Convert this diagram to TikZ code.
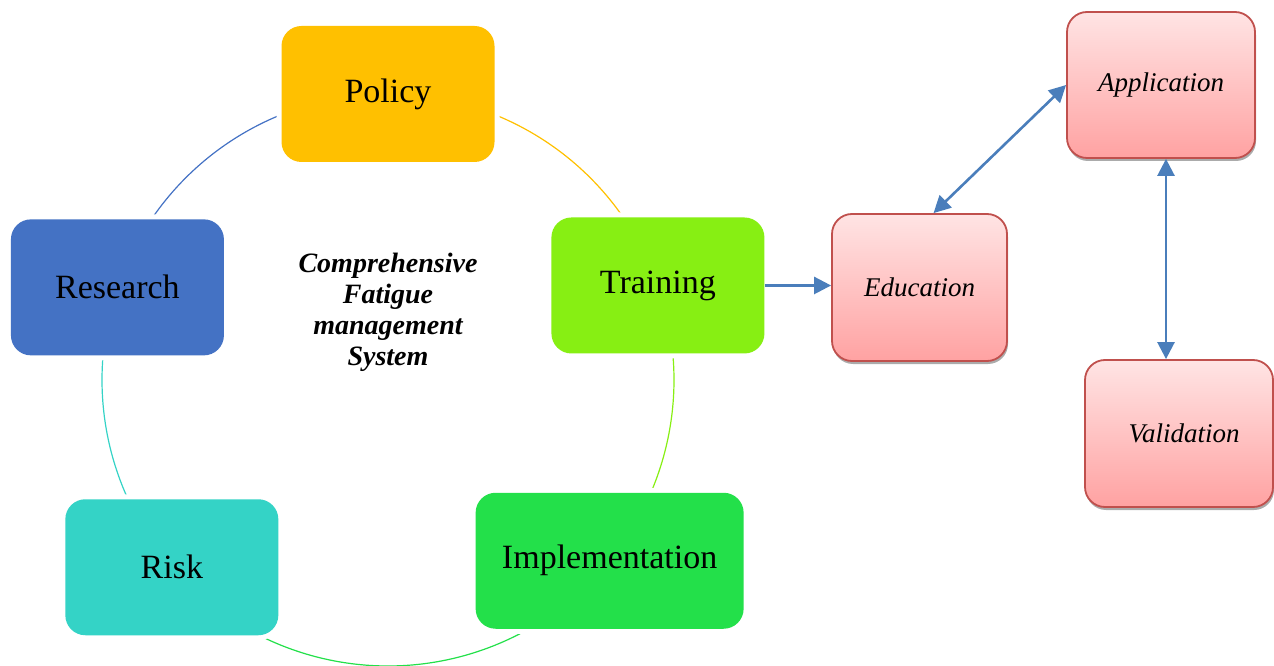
\documentclass[tikz,border=0pt]{standalone}
\usepackage{fontspec}
\setmainfont{Liberation Serif}
\usetikzlibrary{arrows.meta, shadows, backgrounds}

\definecolor{policyc}{HTML}{FFC000}
\definecolor{trainc}{HTML}{87EF13}
\definecolor{implc}{HTML}{23E04A}
\definecolor{riskc}{HTML}{34D3C6}
\definecolor{researchc}{HTML}{4472C4}
\definecolor{linkc}{HTML}{4A7EBB}
\definecolor{pinkline}{HTML}{C0504D}
\definecolor{pinktop}{HTML}{FFE4E4}
\definecolor{pinkbot}{HTML}{FFA2A2}

\begin{document}
\begin{tikzpicture}[
  stage/.style={rounded corners=10pt, minimum width=106.5pt, minimum height=68pt,
    preaction={draw=white, line width=5pt}, font=\fontsize{17pt}{19pt}\selectfont},
  phase/.style={draw=pinkline, line width=0.9pt, rounded corners=10pt,
    top color=pinktop, bottom color=pinkbot, minimum width=94pt, minimum height=73.5pt,
    drop shadow={shadow xshift=0.5pt, shadow yshift=-1.5pt, fill=black!55, opacity=.6},
    font=\fontsize{13.5pt}{16pt}\selectfont\itshape},
  ring/.style={line width=0.6pt},
  link/.style={draw=linkc, line width=1.3pt, >={Triangle[length=8.5pt, width=8.5pt]}}]
  \useasboundingbox (0pt,0pt) rectangle (637pt,332.5pt);
  \coordinate (hub) at (194pt,142.5pt);

  \node[stage, fill=policyc] (policy) at ([shift={(90:143pt)}]hub) {Policy};
  \node[stage, fill=trainc] (training) at ([shift={(19.3:143pt)}]hub) {Training};
  \node[stage, fill=implc, minimum width=134pt] (impl) at ([shift={(-39.2:143pt)}]hub) {Implementation};
  \node[stage, fill=riskc] (risk) at ([shift={(-139.1:143pt)}]hub) {Risk};
  \node[stage, fill=researchc] (research) at ([shift={(161.1:143pt)}]hub) {Research};
  \node[align=center, font=\fontsize{14pt}{15.5pt}\selectfont\bfseries\itshape] (title) at (194pt,176.5pt)
    {Comprehensive\\Fatigue\\management\\System};

  \begin{scope}[on background layer]
    \draw[ring, policyc] (policy.center) arc[start angle=90, end angle=19.3, radius=143pt];
    \draw[ring, trainc] (training.center) arc[start angle=19.3, end angle=-39.2, radius=143pt];
    \draw[ring, implc] (impl.center) arc[start angle=-39.2, end angle=-139.1, radius=143pt];
    \draw[ring, riskc] (risk.center) arc[start angle=220.9, end angle=161.1, radius=143pt];
    \draw[ring, researchc] (research.center) arc[start angle=161.1, end angle=90, radius=143pt];
  \end{scope}

  \node[phase, minimum width=87.5pt] (education) at (459.75pt,188.75pt) {Education};
  \node[phase, minimum height=73pt] (application) at (580.5pt,290pt) {Application};
  \node[phase] (validation) at (589.5pt,115.75pt) {\hspace{5pt}Validation};

  \draw[link, ->] (training.east) -- (training.east -| education.west);
  \draw[link, <->] ([xshift=7pt]education.north) -- (application.west);
  \draw[link, <->] ([xshift=2.5pt]application.south) -- ([xshift=2.5pt]application.south |- validation.north);
\end{tikzpicture}
\end{document}
